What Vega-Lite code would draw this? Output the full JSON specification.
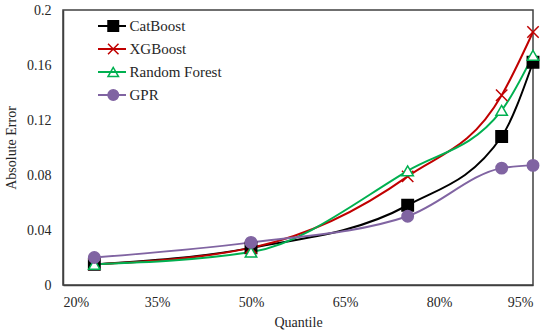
{
  "$schema": "https://vega.github.io/schema/vega-lite/v6.json",
  "width": 470,
  "height": 275,
  "autosize": {"type": "none"},
  "padding": {"left": 63, "top": 10, "right": 17, "bottom": 51},
  "config": {
    "font": "Liberation Serif",
    "view": {"stroke": "#404040", "strokeWidth": 1.5},
    "axis": {"labelFont": "Liberation Serif", "titleFont": "Liberation Serif", "labelFontSize": 14, "titleFontSize": 14, "labelColor": "#262626", "titleColor": "#262626", "titleFontWeight": "normal", "domainColor": "#404040", "domainWidth": 1.5, "ticks": false, "grid": false},
    "legend": {"labelFont": "Liberation Serif", "labelFontSize": 15, "labelColor": "#262626"}
  },
  "data": {
    "values": [
      {"q": 0.25, "err": 0.015, "series": "CatBoost"},
      {"q": 0.5, "err": 0.027, "series": "CatBoost"},
      {"q": 0.75, "err": 0.058, "series": "CatBoost"},
      {"q": 0.9, "err": 0.108, "series": "CatBoost"},
      {"q": 0.95, "err": 0.162, "series": "CatBoost"},
      {"q": 0.25, "err": 0.015, "series": "XGBoost"},
      {"q": 0.5, "err": 0.027, "series": "XGBoost"},
      {"q": 0.75, "err": 0.079, "series": "XGBoost"},
      {"q": 0.9, "err": 0.138, "series": "XGBoost"},
      {"q": 0.95, "err": 0.184, "series": "XGBoost"},
      {"q": 0.25, "err": 0.015, "series": "Random Forest"},
      {"q": 0.5, "err": 0.024, "series": "Random Forest"},
      {"q": 0.75, "err": 0.083, "series": "Random Forest"},
      {"q": 0.9, "err": 0.127, "series": "Random Forest"},
      {"q": 0.95, "err": 0.167, "series": "Random Forest"},
      {"q": 0.25, "err": 0.020, "series": "GPR"},
      {"q": 0.5, "err": 0.031, "series": "GPR"},
      {"q": 0.75, "err": 0.050, "series": "GPR"},
      {"q": 0.9, "err": 0.085, "series": "GPR"},
      {"q": 0.95, "err": 0.087, "series": "GPR"}
    ]
  },
  "encoding": {
    "x": {"field": "q", "type": "quantitative", "title": "Quantile",
      "scale": {"domain": [0.2, 0.95], "nice": false, "zero": false},
      "axis": {"values": [0.2, 0.35, 0.5, 0.65, 0.8, 0.95], "format": ".0%", "labelPadding": 10, "titlePadding": 6}},
    "y": {"field": "err", "type": "quantitative", "title": "Absolute Error",
      "scale": {"domain": [0, 0.2], "nice": false},
      "axis": {"values": [0, 0.04, 0.08, 0.12, 0.16, 0.2], "format": "~g", "labelPadding": 12, "titlePadding": 8}}
  },
  "layer": [
    {
      "mark": {"type": "line", "interpolate": "monotone", "strokeWidth": 2},
      "encoding": {
        "color": {"field": "series", "type": "nominal",
          "scale": {"domain": ["CatBoost", "XGBoost", "Random Forest", "GPR"], "range": ["#000000", "#C00000", "#00B050", "#8064A2"]},
          "legend": {"title": null, "orient": "none", "legendX": 34, "legendY": 8, "symbolType": "stroke", "symbolSize": 784, "symbolStrokeWidth": 2, "rowPadding": 7, "clipHeight": 16, "labelOffset": 0, "labelExpr": "''"}}
      }
    },
    {
      "mark": {"type": "point", "filled": false, "size": 130, "strokeWidth": 1.5, "opacity": 1},
      "encoding": {
        "shape": {"field": "series", "type": "nominal",
          "scale": {"domain": ["CatBoost", "XGBoost", "Random Forest", "GPR"], "range": ["square", "M-1,-1L1,1M-1,1L1,-1", "triangle-up", "circle"]},
          "legend": {"title": null, "orient": "none", "legendX": 42.75, "legendY": 8, "symbolSize": 110, "symbolStrokeWidth": 1.5, "rowPadding": 7, "clipHeight": 16, "labelOffset": 8.75}},
        "stroke": {"field": "series", "type": "nominal",
          "scale": {"domain": ["CatBoost", "XGBoost", "Random Forest", "GPR"], "range": ["#000000", "#C00000", "#00B050", "#8064A2"]}},
        "fill": {"field": "series", "type": "nominal",
          "scale": {"domain": ["CatBoost", "XGBoost", "Random Forest", "GPR"], "range": ["#000000", "transparent", "#FFFFFF", "#8064A2"]}}
      }
    }
  ],
  "resolve": {"scale": {"color": "independent"}}
}
